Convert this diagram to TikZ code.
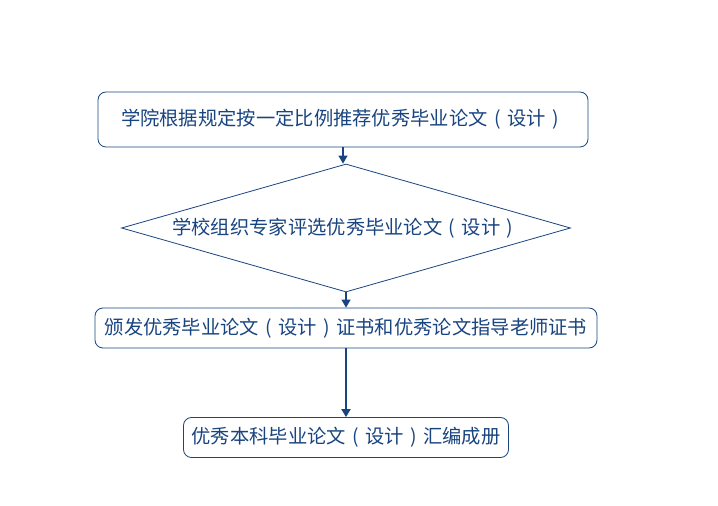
\documentclass[tikz,border=0pt]{standalone}
\usepackage{fontspec}
\setmainfont{Noto Sans CJK SC}
\usetikzlibrary{arrows.meta, shapes.geometric}
\definecolor{FlowBlue}{RGB}{24, 68, 128}
\newcommand{\lparen}{\makebox[1em][c]{(}}
\newcommand{\rparen}{\makebox[1em][c]{)}}

\begin{document}
\begin{tikzpicture}[x=1pt, y=1pt,
    box/.style={draw=FlowBlue, line width=0.8pt, rounded corners=8pt, text=FlowBlue, font=\fontsize{19.3}{21}\selectfont, inner sep=0pt},
    decision/.style={draw=FlowBlue, line width=0.8pt, shape=diamond, aspect=3.5, text=FlowBlue, font=\fontsize{19.3}{21}\selectfont, inner sep=0pt},
    flow/.style={draw=FlowBlue, line width=1.3pt, -{Triangle[width=9pt, length=8pt]}}]
                \useasboundingbox (0,0) rectangle (718,506);
                \node[box, minimum width=490pt, minimum height=55pt] (propose) at (343, 386.5) {学院根据规定按一定比例推荐优秀毕业论文\lparen 设计\rparen};
                \node[decision, minimum width=449pt, minimum height=128pt] (review) at (346, 278) {学校组织专家评选优秀毕业论文\lparen 设计\rparen};
                \node[box, minimum width=502pt, minimum height=40pt] (award) at (346, 178) {颁发优秀毕业论文\lparen 设计\rparen 证书和优秀论文指导老师证书};
                \node[box, minimum width=325pt, minimum height=40pt] (compile) at (346, 68.5) {优秀本科毕业论文\lparen 设计\rparen 汇编成册};
                \draw[flow] (propose.south) -- (propose.south |- review.north);
                \draw[flow] (review.south) -- (award.north);
                \draw[flow, line width=1.8pt] (award.south) -- (compile.north);
            \end{tikzpicture}
\end{document}
